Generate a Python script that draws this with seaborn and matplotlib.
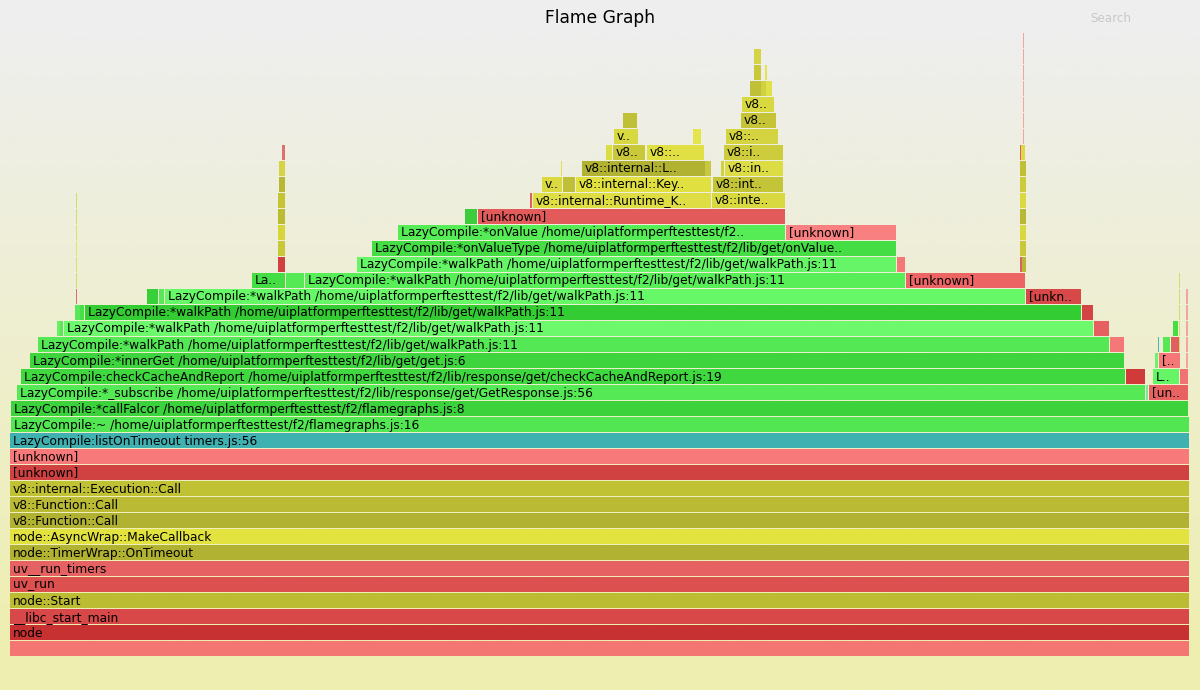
import matplotlib.pyplot as plt
import matplotlib.colors as mcolors
import numpy as np
import seaborn as sns

sns.set_theme(style="white")
plt.rcParams["font.family"] = ["DejaVu Sans"]

TITLE = "Flame Graph"
TOTAL_SAMPLES = 1179

WALK = "LazyCompile:*walkPath /home/uiplatformperftesttest/f2/lib/get/walkPath.js:11"

# stack depth of every frame (0 = root)
frame_depth = [
    0, 1, 2, 3, 4, 5, 6, 7, 8, 9, 10, 11, 12, 13, 14, 15,
    16, 16, 16,
    17, 17, 17, 17,
    18, 18, 18, 18,
    19, 19, 19, 19, 19, 19, 19,
    20, 20, 20, 20, 20, 20, 20,
    21, 21, 21, 21, 21, 21,
    22, 22, 22, 22, 22, 22, 22,
    23, 23, 23, 23, 23, 23,
    24, 24, 24, 24, 24, 24,
    25, 25, 25, 25,
    26, 26, 26, 26, 26,
    27, 27, 27, 27, 27,
    28, 28, 28, 28, 28, 28,
    29, 29, 29, 29, 29, 29,
    30, 30, 30, 30, 30, 30, 30,
    31, 31, 31, 31, 31, 31, 31,
    32, 32, 32, 32,
    33, 33, 33,
    34, 34,
    35, 35, 35, 35,
    36, 36, 36,
    37, 37,
    38,
]

# first sample of every frame
frame_start = [
    0, 0, 0, 0, 0, 0, 0, 0, 0, 0, 0, 0, 0, 0, 1, 1,
    7, 1136, 1139,
    11, 1116, 1143, 1170,
    20, 1145, 1149, 1176,
    28, 1100, 1148, 1153, 1161, 1169, 1176,
    47, 50, 54, 1084, 1163, 1169, 1176,
    65, 70, 75, 1072, 1169, 1176,
    66, 137, 149, 155, 1016, 1169, 1176,
    66, 242, 276, 295, 896, 1169,
    66, 268, 347, 887, 1010, 1012,
    66, 268, 362, 1010,
    66, 268, 388, 776, 1010,
    66, 268, 455, 468, 1010,
    66, 268, 520, 523, 702, 1010,
    269, 532, 553, 566, 703, 1010,
    269, 551, 572, 695, 711, 715, 1010,
    272, 596, 603, 637, 714, 1010, 1011,
    604, 683, 716, 1013,
    613, 731, 1013,
    732, 1013,
    740, 751, 756, 1013,
    744, 755, 1013,
    744, 1013,
    1013,
]

# sample after the last sample of every frame
frame_end = [
    1179, 1179, 1179, 1179, 1179, 1179, 1179, 1179, 1179, 1179, 1179, 1179, 1179, 1179, 1179, 1178,
    1135, 1138, 1178,
    1115, 1135, 1169, 1178,
    1114, 1148, 1170, 1178,
    1099, 1114, 1149, 1160, 1169, 1170, 1178,
    50, 53, 1083, 1099, 1168, 1170, 1178,
    70, 74, 1071, 1083, 1170, 1178,
    67, 148, 154, 1015, 1071, 1170, 1178,
    67, 275, 294, 895, 1015, 1170,
    67, 275, 886, 895, 1012, 1016,
    67, 275, 886, 1016,
    67, 275, 775, 886, 1016,
    67, 275, 467, 775, 1016,
    67, 275, 522, 701, 775, 1016,
    275, 552, 565, 701, 773, 1016,
    275, 552, 695, 701, 714, 773, 1016,
    275, 602, 635, 694, 773, 1011, 1015,
    628, 691, 768, 1014,
    627, 766, 1014,
    764, 1014,
    751, 756, 762, 1014,
    751, 757, 1014,
    751, 1014,
    1014,
]

frame_label = [
    "", "node", "__libc_start_main", "node::Start", "uv_run", "uv__run_timers",
    "node::TimerWrap::OnTimeout", "node::AsyncWrap::MakeCallback",
    "v8::Function::Call", "v8::Function::Call", "v8::internal::Execution::Call",
    "[unknown]", "[unknown]", "LazyCompile:listOnTimeout timers.js:56",
    "LazyCompile:~ /home/uiplatformperftesttest/f2/flamegraphs.js:16",
    "LazyCompile:*callFalcor /home/uiplatformperftesttest/f2/flamegraphs.js:8",
    "LazyCompile:*_subscribe /home/uiplatformperftesttest/f2/lib/response/get/GetResponse.js:56",
    "", "[un..",
    "LazyCompile:checkCacheAndReport /home/uiplatformperftesttest/f2/lib/response/get/checkCacheAndReport.js:19",
    "", "L..", "",
    "LazyCompile:*innerGet /home/uiplatformperftesttest/f2/lib/get/get.js:6",
    "", "[..", "",
    WALK, "", "", "", "", "", "",
    "", "", WALK, "", "", "", "",
    "", "", WALK, "", "", "",
    "", "", "", WALK, "[unkn..", "", "",
    "", "La..", "", WALK, "[unknown]", "",
    "", "", WALK, "", "", "",
    "", "", "LazyCompile:*onValueType /home/uiplatformperftesttest/f2/lib/get/onValue..", "",
    "", "", "LazyCompile:*onValue /home/uiplatformperftesttest/f2..", "[unknown]", "",
    "", "", "", "[unknown]", "",
    "", "", "", "v8::internal::Runtime_K..", "v8::inte..", "",
    "", "v..", "", "v8::internal::Key..", "v8::int..", "",
    "", "", "v8::internal::L..", "", "", "v8::in..", "",
    "", "", "v8..", "v8::..", "v8::i..", "", "",
    "v..", "", "v8::..", "",
    "", "v8..", "",
    "v8..", "",
    "", "", "", "",
    "", "", "",
    "", "",
    "",
]

# random-ish flame palette, one colour per frame
frame_color = [
    "#f47672", "#c83131", "#d94848", "#bcbc32", "#dc5050", "#e66262", "#b1b132", "#e3e340",
    "#b2b232", "#baba34", "#c1c134", "#d04242", "#f87979", "#40b1b1", "#52e652", "#3bd23b",
    "#55ea55", "#7ae6a6", "#e86262",
    "#3fd83f", "#d03a3a", "#66f566", "#f07272",
    "#3ed43e", "#70f070", "#f47878", "#f2a4a0",
    "#55e855", "#f47878", "#40b8c0", "#55e855", "#e06060", "#d8d870", "#f2a4a0",
    "#66f066", "#5ae85a", "#6cfa6c", "#e66060", "#44dd44", "#d8d870", "#f2a4a0",
    "#5ae85a", "#48e048", "#33cc33", "#d44444", "#d8d870", "#f2a4a0",
    "#e07070", "#38d038", "#5ae85a", "#66f866", "#d84848", "#d8d870", "#f2a4a0",
    "#d8d870", "#44dd44", "#55ea55", "#58ee58", "#ec6464", "#d8d870",
    "#dede70", "#d04040", "#66f566", "#f47878", "#e06060", "#b8b838",
    "#e4e470", "#c8c838", "#44dd44", "#c8c83a",
    "#dede70", "#d6d63c", "#55ec55", "#f88080", "#d8d840",
    "#d8d870", "#bcbc32", "#3ccc3c", "#e35a5a", "#b8b836",
    "#d8d870", "#c4c434", "#e06060", "#dede44", "#d8d840", "#dada40",
    "#b8b834", "#dada40", "#c0c038", "#e0e040", "#c4c438", "#cccc3a",
    "#d4d444", "#e0e050", "#b2b232", "#c8c840", "#d0d040", "#dcdc44", "#c0c036",
    "#e07070", "#dcdc44", "#c8c83a", "#e0e044", "#cccc3c", "#e06060", "#dada48",
    "#d8d840", "#e4e44c", "#d4d440", "#f2a4a0",
    "#c0c036", "#c4c436", "#f2a4a0",
    "#d8d840", "#f2a4a0",
    "#c0c036", "#d0d040", "#e0e048", "#f2a4a0",
    "#c8c83a", "#e4e450", "#f2a4a0",
    "#d4d444", "#f2a4a0",
    "#f2a4a0",
]


def main():
    fig = plt.figure(figsize=(12, 6.9), dpi=100)

    # background gradient #eeeeee -> #eeeeb0
    bg = fig.add_axes([0, 0, 1, 1], zorder=0)
    top = np.array(mcolors.to_rgb("#eeeeee"))
    bottom = np.array(mcolors.to_rgb("#eeeeb0"))
    t = np.clip((np.linspace(0, 1, 256) - 0.05) / 0.9, 0, 1)[:, None]
    grad = (top * (1 - t) + bottom * t)[:, None, :]
    bg.imshow(grad, aspect="auto", extent=[0, 1, 0, 1])
    bg.set_axis_off()

    ax = fig.add_axes([0, 0, 1, 1], zorder=1)
    ax.patch.set_alpha(0)
    starts = np.array(frame_start)
    widths = np.array(frame_end) - starts
    ax.barh(frame_depth, widths, left=starts, height=15 / 16,
            color=frame_color, linewidth=0)
    for d, s, lab in zip(frame_depth, frame_start, frame_label):
        if lab:
            ax.text(s + 3, d - 0.03, lab, fontsize=8.8, color="black",
                    va="center", ha="left")
    ax.set_xlim(-10, TOTAL_SAMPLES + 11)
    ax.set_ylim(-2.59, 40.53)
    ax.set_axis_off()

    fig.text(0.5, 1 - 18 / 690, TITLE, ha="center", va="center",
             fontsize=12.3, color="black")
    fig.text(1090 / 1200, 1 - 19 / 690, "Search", ha="left", va="center",
             fontsize=8.6, color="#c8c8c8")

    fig.savefig("out.png", dpi=100)
    plt.close(fig)


if __name__ == "__main__":
    main()
